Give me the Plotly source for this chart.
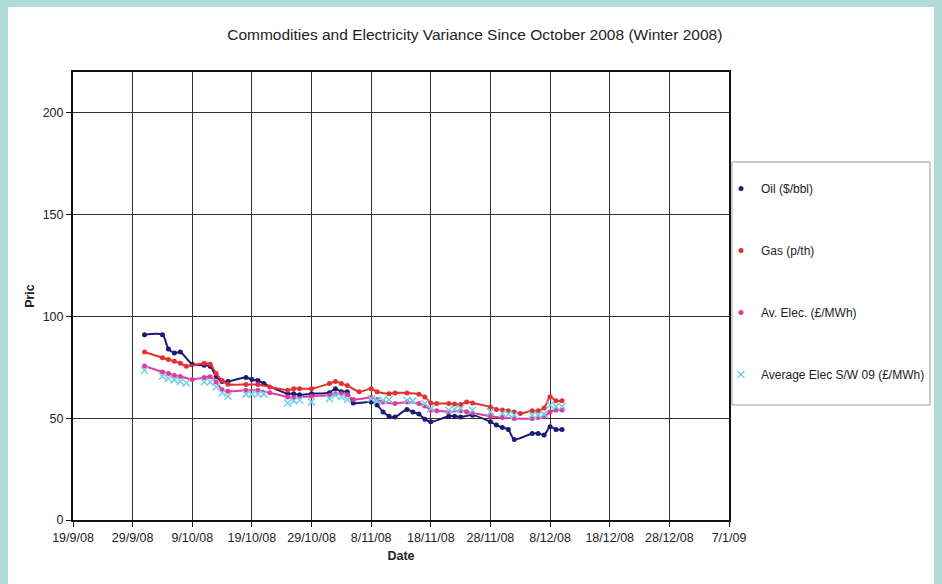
import plotly.graph_objects as go

# Observation dates (Oct - Dec 2008)
dates = [
    "2008-10-01", "2008-10-04", "2008-10-05", "2008-10-06", "2008-10-07", "2008-10-08",
    "2008-10-09", "2008-10-11", "2008-10-12", "2008-10-13", "2008-10-14", "2008-10-15",
    "2008-10-18", "2008-10-19", "2008-10-20", "2008-10-21", "2008-10-22", "2008-10-25",
    "2008-10-26", "2008-10-27", "2008-10-29", "2008-11-01", "2008-11-02", "2008-11-03",
    "2008-11-04", "2008-11-05", "2008-11-06", "2008-11-08", "2008-11-09", "2008-11-10",
    "2008-11-11", "2008-11-12", "2008-11-14", "2008-11-15", "2008-11-16", "2008-11-17",
    "2008-11-18", "2008-11-19", "2008-11-21", "2008-11-22", "2008-11-23", "2008-11-24",
    "2008-11-25", "2008-11-28", "2008-11-29", "2008-11-30", "2008-12-01", "2008-12-02",
    "2008-12-03", "2008-12-05", "2008-12-06", "2008-12-07", "2008-12-08", "2008-12-09",
    "2008-12-10",
]

oil = [
    91, 91, 84, 82, 82.5, None,
    76.5, 76, 75.5, 70.5, 68, 68,
    70, 69, 68.5, 67, None, 62,
    62, 61.5, 62, 62.5, 64.5, 63,
    63, 57.5, None, 58, 56.5, 53,
    51, 50.6, 54.3, 53, 52, 49.5,
    48.2, None, 51, 51, 50.6, None,
    51.5, 48.2, 46.6, 45.4, 44.4, 39.5,
    None, 42.5, 42.5, 41.7, 45.8, 44.4,
    44.4,
]

gas = [
    82.5, 79.7, 78.8, 78, 77, 75.5,
    None, 77, 76.5, 72, 68.5, 66.7,
    66.5, None, 66.5, None, 65.3, 63.7,
    64.5, 64.5, 64.5, 67, 68, 67,
    66, None, 63, 64.5, 63, None,
    62, 62.4, 62.4, None, 61.8, 60.4,
    57.5, 57.2, 57.2, 57, 56.7, 58,
    57.5, 55.5, 54.3, 54, 53.6, 53,
    52.3, 53.6, 53.6, 55, 60.5, 58.5,
    58.5,
]

av_elec = [
    75.6, 72.7, 72, 71, 70.5, None,
    69, 70, 70.3, 67.8, 64, 63.2,
    63.7, None, 63.7, None, 62.5, 60.4,
    60, None, 60.8, 61.3, 62, 62,
    61.5, 59.2, None, 60.2, 59.2, 58,
    None, 57.2, 58, None, 57.2, 56,
    53.9, 53.6, 53.1, None, 53.6, 53.2,
    52.5, 51, None, 50.3, None, 49.8,
    None, 49.9, 50.3, 50.8, 53, 54,
    54,
]

av_elec_sw09 = [
    73.5, 70.6, 69.5, 68.8, 68, 67.3,
    None, 67.8, 67.8, 65.3, 62.4, 60.8,
    61.8, 61.8, 61.8, 61.8, None, 57.5,
    58.5, 58.8, 58, 59.6, 61.3, 60.5,
    59.2, None, None, 59.5, 58.5, 58.8,
    59.2, None, 58.8, 58.5, None, 57.2,
    54.8, None, 53.9, 54.5, 54.8, None,
    53.9, 53.1, None, 52.3, 52, 51.5,
    None, 51.5, 51.5, 52, 56.5, 55.7,
    55.7,
]

tick_dates = [
    "2008-09-19", "2008-09-29", "2008-10-09", "2008-10-19", "2008-10-29", "2008-11-08",
    "2008-11-18", "2008-11-28", "2008-12-08", "2008-12-18", "2008-12-28", "2009-01-07",
]
tick_labels = [
    "19/9/08", "29/9/08", "9/10/08", "19/10/08", "29/10/08", "8/11/08",
    "18/11/08", "28/11/08", "8/12/08", "18/12/08", "28/12/08", "7/1/09",
]

FONT = "Liberation Sans, Arial, sans-serif"
TEXT = "#222222"

# plot area in pixels: x 73..729, y 72..520
PL, PR, PT, PB = 73, 729, 72, 520
PW, PH = PR - PL, PB - PT


def px_x(x):
    return (x - PL) / PW


def px_y(y):
    return (PB - y) / PH


fig = go.Figure()

series = [
    ("Oil ($/bbl)", oil, "#1c1c78"),
    ("Gas (p/th)", gas, "#e4302f"),
    ("Av. Elec. (£/MWh)", av_elec, "#e2399c"),
]

for i, (name, vals, color) in enumerate(series):
    fig.add_trace(go.Scatter(
        x=dates, y=vals, mode="lines", connectgaps=True,
        line=dict(color=color, width=2, shape="spline", smoothing=0.7),
        showlegend=False, legendgroup=f"g{i}", hoverinfo="skip",
    ))
    fig.add_trace(go.Scatter(
        x=dates, y=vals, mode="markers", name=name,
        marker=dict(color=color, size=5, symbol="circle"),
        legendgroup=f"g{i}",
    ))

fig.add_trace(go.Scatter(
    x=dates, y=av_elec_sw09, mode="markers", name="Average Elec S/W 09 (£/MWh)",
    marker=dict(color="#72cfe8", size=7, symbol="x-thin", line=dict(color="#72cfe8", width=1.5)),
    legendgroup="g3",
))

# White panel inside the teal frame
fig.add_shape(
    type="rect", xref="paper", yref="paper",
    x0=px_x(8), x1=px_x(934), y0=px_y(600), y1=px_y(7),
    fillcolor="white", line=dict(width=0), layer="below",
)
# Legend frame
fig.add_shape(
    type="rect", xref="paper", yref="paper",
    x0=px_x(732), x1=px_x(930), y0=px_y(405), y1=px_y(162),
    fillcolor="white", line=dict(color="#9a9a9a", width=1), layer="below",
)

fig.update_layout(
    width=942, height=584,
    margin=dict(l=PL, r=942 - PR, t=PT, b=584 - PB),
    paper_bgcolor="#aedad8",
    plot_bgcolor="rgba(0,0,0,0)",
    font=dict(family=FONT, size=12, color=TEXT),
    title=dict(
        text="Commodities and Electricity Variance Since October 2008 (Winter 2008)",
        x=0.504, xref="container", y=1 - 35 / 584, yref="container",
        xanchor="center", yanchor="middle",
        font=dict(family=FONT, size=15.5, color=TEXT),
    ),
    legend=dict(
        x=px_x(721), y=px_y(174), xanchor="left", yanchor="top",
        borderwidth=0, bgcolor="rgba(0,0,0,0)",
        font=dict(family=FONT, size=12, color=TEXT),
        traceorder="grouped", tracegroupgap=43, itemwidth=30,
    ),
    showlegend=True,
)

fig.update_xaxes(
    type="date", range=["2008-09-19", "2009-01-07"],
    tickvals=tick_dates, ticktext=tick_labels,
    tickfont=dict(family=FONT, size=12.5, color=TEXT),
    showgrid=True, gridcolor="#333333", gridwidth=1,
    showline=True, linecolor="#111111", linewidth=2, mirror=True,
    ticks="outside", ticklen=5, tickcolor="#111111",
    zeroline=False,
    title=dict(text="<b>Date</b>", standoff=7, font=dict(family=FONT, size=12.5)),
)
fig.update_yaxes(
    range=[0, 220], tickvals=[0, 50, 100, 150, 200],
    tickfont=dict(family=FONT, size=12.5, color=TEXT),
    showgrid=True, gridcolor="#333333", gridwidth=1,
    showline=True, linecolor="#111111", linewidth=2, mirror=True,
    ticks="outside", ticklen=5, tickcolor="#111111",
    zeroline=False,
    title=dict(text="<b>Pric</b>", standoff=5, font=dict(family=FONT, size=12.5)),
)

fig.write_html("out.html")
